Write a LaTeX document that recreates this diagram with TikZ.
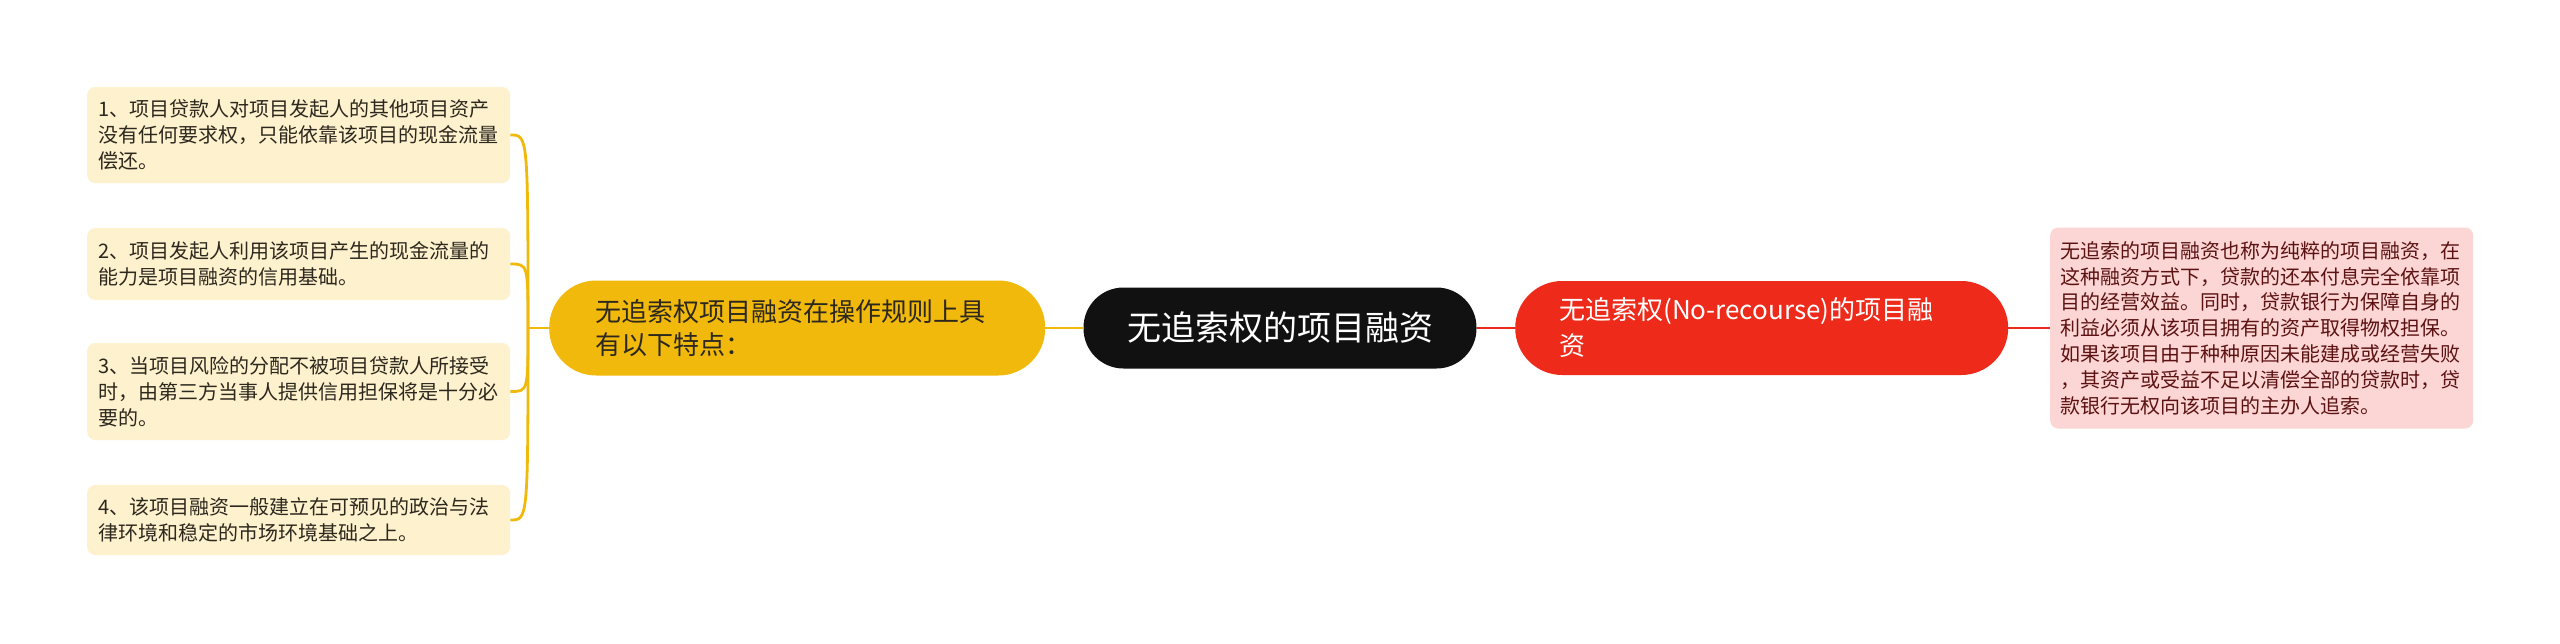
\documentclass[tikz,border=0pt]{standalone}
\usepackage{fontspec}
\setmainfont{Noto Sans CJK SC}
\definecolor{gold}{RGB}{240,185,12}
\definecolor{leaffill}{RGB}{253,241,206}
\definecolor{leaftext}{RGB}{45,40,30}
\definecolor{rootfill}{RGB}{17,17,17}
\definecolor{redfill}{RGB}{238,43,26}
\definecolor{pinkfill}{RGB}{252,214,212}
\definecolor{pinktext}{RGB}{92,18,18}
\begin{document}
\begin{tikzpicture}[x=1pt,y=-1pt,
  rootnode/.style={fill=rootfill, text=white, rounded corners=40pt, minimum width=393pt, minimum height=81pt, inner sep=0pt, font=\fontsize{34}{40}\selectfont},
  yelnode/.style={fill=gold, text=leaftext, rounded corners=47pt, minimum width=496pt, minimum height=95pt, inner xsep=46pt, inner ysep=0pt, text width=404pt, align=left, font=\fontsize{26}{33}\selectfont},
  rednode/.style={fill=redfill, text=white, rounded corners=47pt, minimum width=493pt, minimum height=94pt, inner xsep=44pt, inner ysep=0pt, text width=405pt, align=left, font=\fontsize{26}{36}\selectfont},
  leafnode/.style={fill=leaffill, text=leaftext, rounded corners=8pt, minimum width=423pt, inner xsep=11pt, inner ysep=0pt, text width=401pt, align=left, font=\fontsize{20}{26}\selectfont},
  pinknode/.style={fill=pinkfill, text=pinktext, rounded corners=8pt, minimum width=423pt, minimum height=201pt, inner xsep=10pt, inner ysep=0pt, text width=403pt, align=left, font=\fontsize{20}{25.8}\selectfont},
  goldline/.style={draw=gold, line width=2.8pt},
  redline/.style={draw=redfill, line width=2.6pt}]
\useasboundingbox (0,0) rectangle (2560,643);
\fill[white] (0,0) rectangle (2560,643);

\node[rootnode] (root) at (1280,328) {无追索权的项目融资};
\node[yelnode, anchor=west] (yel) at (549,328) {无追索权项目融资在操作规则上具\\有以下特点：};
\node[rednode, anchor=west] (red) at (1515,328) {无追索权(No-recourse)的项目融\\资};
\node[pinknode, anchor=west] (pink) at (2050,328) {无追索的项目融资也称为纯粹的项目融资，在\\这种融资方式下，贷款的还本付息完全依靠项\\目的经营效益。同时，贷款银行为保障自身的\\利益必须从该项目拥有的资产取得物权担保。\\如果该项目由于种种原因未能建成或经营失败\\，其资产或受益不足以清偿全部的贷款时，贷\\款银行无权向该项目的主办人追索。};

\node[leafnode, anchor=west, minimum height=96pt] (l1) at (87,135) {1、项目贷款人对项目发起人的其他项目资产\\没有任何要求权，只能依靠该项目的现金流量\\偿还。};
\node[leafnode, anchor=west, minimum height=72pt] (l2) at (87,264) {2、项目发起人利用该项目产生的现金流量的\\能力是项目融资的信用基础。};
\node[leafnode, anchor=west, minimum height=97pt] (l3) at (87,391.5) {3、当项目风险的分配不被项目贷款人所接受\\时，由第三方当事人提供信用担保将是十分必\\要的。};
\node[leafnode, anchor=west, minimum height=70pt] (l4) at (87,520) {4、该项目融资一般建立在可预见的政治与法\\律环境和稳定的市场环境基础之上。};

\coordinate (br) at (528,328);
\draw[goldline] (root.west) -- (yel.east);
\draw[redline] (root.east) -- (red.west);
\draw[redline] (red.east) -- (pink.west);
\draw[goldline] (yel.west) -- (br);
\foreach \l in {l1,l2,l3,l4}{
  \draw[goldline] (br) .. controls (br |- \l.east) and (br |- \l.east) .. (\l.east);
}
\end{tikzpicture}
\end{document}
